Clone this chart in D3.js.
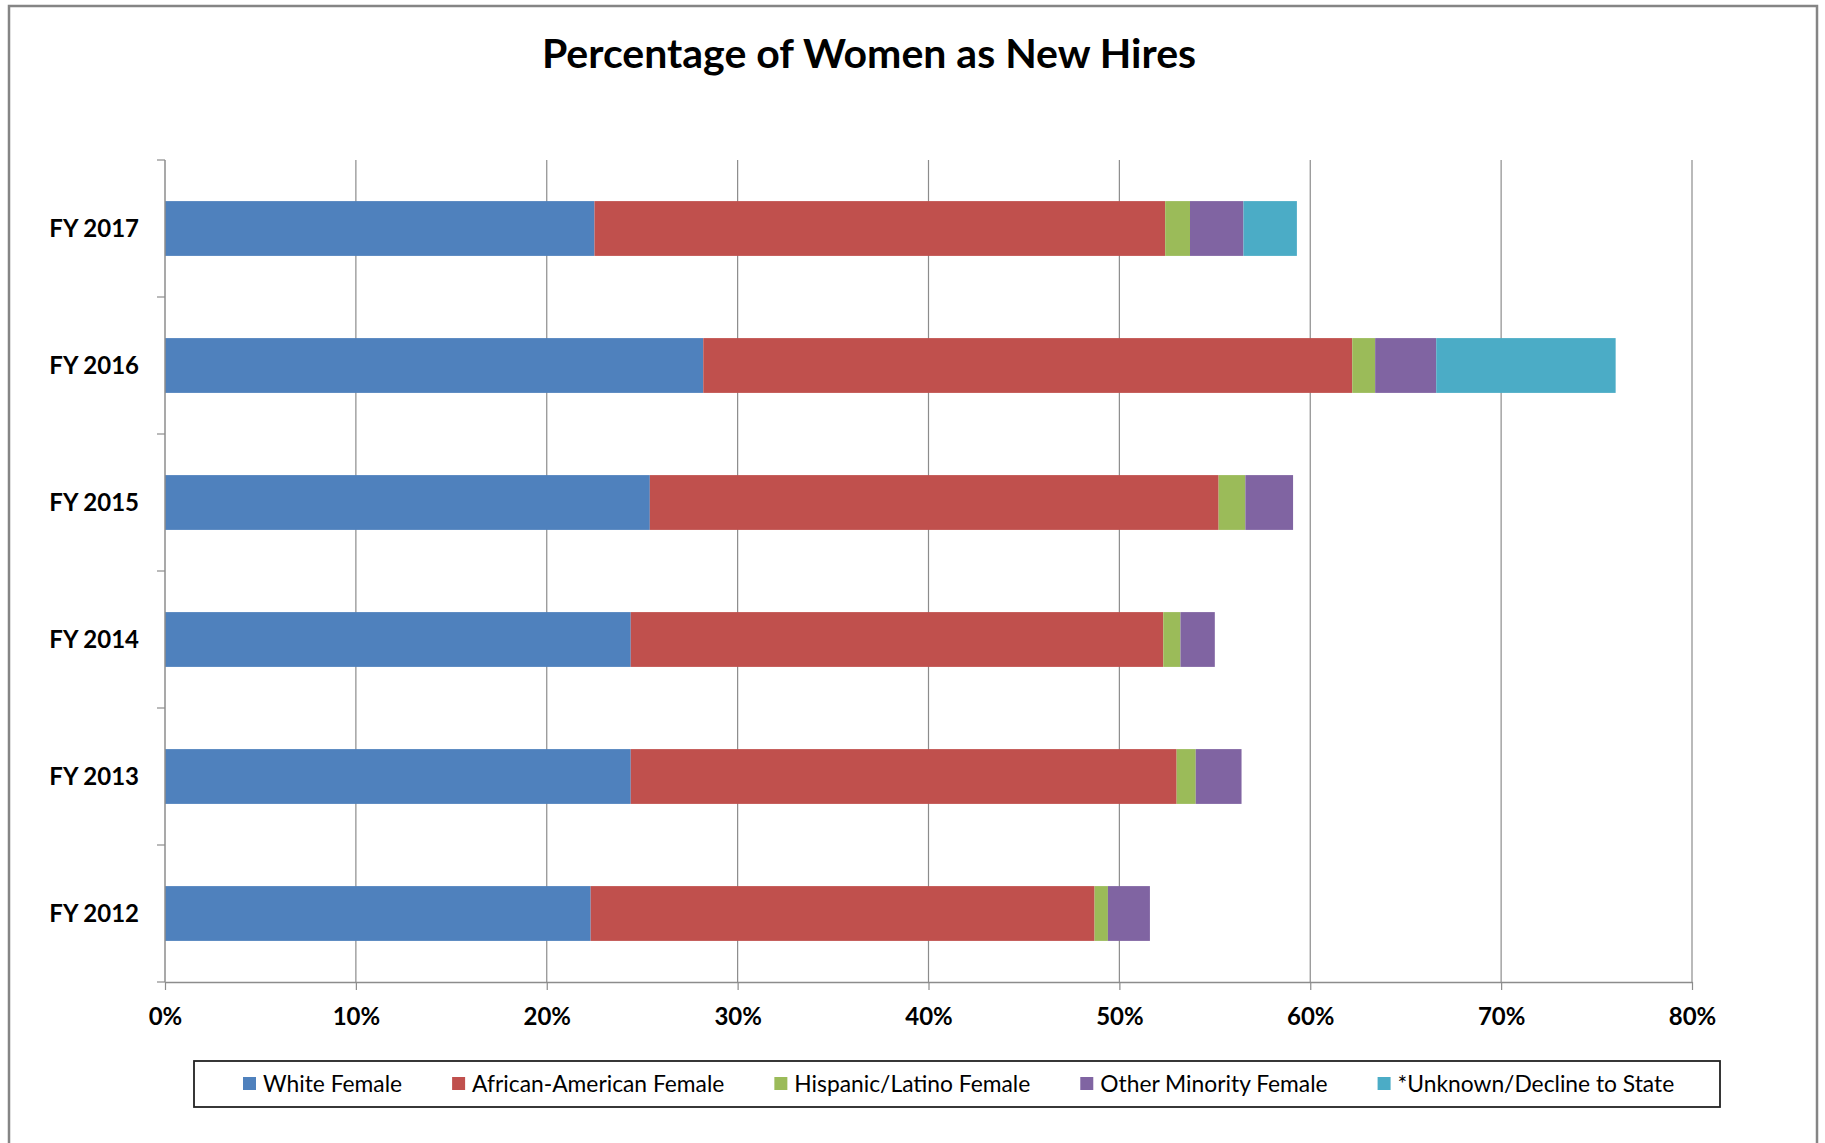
<!DOCTYPE html>
<html>
<head>
<meta charset="utf-8">
<script src="https://cdn.jsdelivr.net/npm/d3@7"></script>
<style>
  body { margin: 0; background: #fff; }
  svg { display: block; font-family: Lato, "Open Sans", sans-serif; }
</style>
</head>
<body>
<div id="chart"></div>
<script>
// Data (percent of new hires)
const years = ["FY 2012", "FY 2013", "FY 2014", "FY 2015", "FY 2016", "FY 2017"];
const seriesNames = [
  "White Female",
  "African-American Female",
  "Hispanic/Latino Female",
  "Other Minority Female",
  "*Unknown/Decline to State",
];
const whiteFemale = [22.3, 24.4, 24.4, 25.4, 28.2, 22.5];
const africanAmericanFemale = [26.4, 28.6, 27.9, 29.8, 34.0, 29.9];
const hispanicFemale = [0.7, 1.0, 0.9, 1.4, 1.2, 1.3];
const otherMinorityFemale = [2.2, 2.4, 1.8, 2.5, 3.2, 2.8];
const unknownFemale = [0, 0, 0, 0, 9.4, 2.8];
const xTicks = [0, 10, 20, 30, 40, 50, 60, 70, 80];

const COLORS = ["#4F81BD", "#C0504D", "#9BBB59", "#8064A2", "#4BACC6"];
const WIDTH = 1825;
const HEIGHT = 1143;
const PLOT = { left: 165, right: 1692, top: 160, bottom: 982 };

const rows = years.map((year, i) => ({
  year,
  [seriesNames[0]]: whiteFemale[i],
  [seriesNames[1]]: africanAmericanFemale[i],
  [seriesNames[2]]: hispanicFemale[i],
  [seriesNames[3]]: otherMinorityFemale[i],
  [seriesNames[4]]: unknownFemale[i],
}));

const svg = d3.select("#chart").append("svg").attr("width", WIDTH).attr("height", HEIGHT);

// chart area frame
svg
  .append("rect")
  .attr("x", 9)
  .attr("y", 6)
  .attr("width", 1808)
  .attr("height", 1160)
  .attr("fill", "#fff")
  .attr("stroke", "#858585")
  .attr("stroke-width", 2.5);

svg
  .append("text")
  .attr("x", 869)
  .attr("y", 68)
  .attr("text-anchor", "middle")
  .attr("font-size", 41)
  .attr("font-weight", "bold")
  .attr("fill", "#000")
  .text("Percentage of Women as New Hires");

const x = d3.scaleLinear().domain([0, 80]).range([PLOT.left, PLOT.right]);
const y = d3
  .scaleBand()
  .domain(years.slice().reverse())
  .range([PLOT.top, PLOT.bottom])
  .paddingInner(0.6)
  .paddingOuter(0.3);

// vertical gridlines
svg
  .append("g")
  .selectAll("line")
  .data(xTicks.slice(1))
  .enter()
  .append("line")
  .attr("x1", (d) => x(d))
  .attr("x2", (d) => x(d))
  .attr("y1", PLOT.top)
  .attr("y2", PLOT.bottom)
  .attr("stroke", "#8c8c8c")
  .attr("stroke-width", 1.2);

const stacked = d3.stack().keys(seriesNames)(rows);

svg
  .append("g")
  .selectAll("g")
  .data(stacked)
  .enter()
  .append("g")
  .attr("fill", (d, i) => COLORS[i])
  .selectAll("rect")
  .data((d) => d.filter((p) => p[1] - p[0] > 0))
  .enter()
  .append("rect")
  .attr("x", (d) => x(d[0]))
  .attr("width", (d) => x(d[1]) - x(d[0]))
  .attr("y", (d) => y(d.data.year))
  .attr("height", y.bandwidth());

// x axis
const xAxis = svg
  .append("g")
  .attr("transform", `translate(0,${PLOT.bottom})`)
  .call(
    d3
      .axisBottom(x)
      .tickValues(xTicks)
      .tickFormat((d) => d + "%")
      .tickSize(8)
      .tickSizeOuter(0)
      .tickPadding(18)
  );
xAxis.select(".domain").attr("stroke", "#8c8c8c").attr("stroke-width", 1.5);
xAxis.selectAll(".tick line").attr("stroke", "#8c8c8c").attr("stroke-width", 1.2);
xAxis
  .selectAll(".tick text")
  .attr("font-family", "Lato, sans-serif")
  .attr("font-size", 24)
  .attr("font-weight", "bold")
  .attr("fill", "#000");

// y axis: line plus ticks at category boundaries
const yAxis = svg.append("g");
yAxis
  .append("line")
  .attr("x1", PLOT.left)
  .attr("x2", PLOT.left)
  .attr("y1", PLOT.top)
  .attr("y2", PLOT.bottom)
  .attr("stroke", "#8c8c8c")
  .attr("stroke-width", 1.5);
const boundaries = d3.range(years.length + 1).map((i) => PLOT.top + i * y.step());
yAxis
  .selectAll("line.tick")
  .data(boundaries)
  .enter()
  .append("line")
  .attr("class", "tick")
  .attr("x1", PLOT.left - 8)
  .attr("x2", PLOT.left)
  .attr("y1", (d) => d)
  .attr("y2", (d) => d)
  .attr("stroke", "#8c8c8c")
  .attr("stroke-width", 1.2);
yAxis
  .selectAll("text")
  .data(years)
  .enter()
  .append("text")
  .attr("x", 139)
  .attr("y", (d) => y(d) + y.bandwidth() / 2)
  .attr("dy", "0.35em")
  .attr("text-anchor", "end")
  .attr("font-size", 24)
  .attr("font-weight", "bold")
  .attr("fill", "#000")
  .text((d) => d);

// legend
const legend = svg.append("g");
legend
  .append("rect")
  .attr("x", 194)
  .attr("y", 1061)
  .attr("width", 1526)
  .attr("height", 46)
  .attr("fill", "#fff")
  .attr("stroke", "#222")
  .attr("stroke-width", 1.8);

let cursor = 243;
seriesNames.forEach((name, i) => {
  const item = legend.append("g").attr("transform", `translate(${cursor},1084)`);
  item.append("rect").attr("x", 0).attr("y", -7).attr("width", 13).attr("height", 13).attr("fill", COLORS[i]);
  const label = item
    .append("text")
    .attr("x", 20)
    .attr("dy", "0.35em")
    .attr("font-size", 22.8)
    .attr("fill", "#000")
    .text(name);
  cursor += 20 + label.node().getComputedTextLength() + 50;
});
</script>
</body>
</html>
